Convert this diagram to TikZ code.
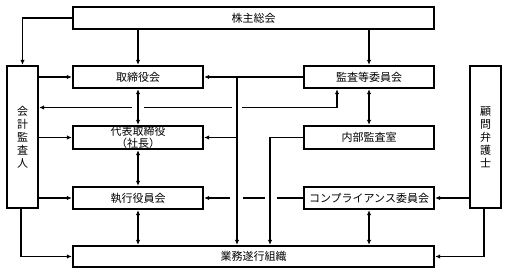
\documentclass[tikz,border=0pt]{standalone}
\usepackage{fontspec}
\setmainfont{Noto Sans CJK JP}
\usetikzlibrary{arrows.meta,calc}

\begin{document}
\begin{tikzpicture}[x=1pt,y=-1pt,font=\fontsize{11}{12}\selectfont,
  box/.style={draw,line width=1.9pt,inner sep=0pt,minimum height=22.5pt,align=center},
  wbox/.style={box,minimum width=130.5pt},
  vbox/.style={box,minimum width=31.5pt,minimum height=142.5pt,font=\fontsize{11}{13}\selectfont},
  line/.style={line width=1.1pt},
  arr/.style={line,-{Latex[length=5pt,width=4.5pt]}},
  both/.style={line,{Latex[length=5pt,width=4.5pt]}-{Latex[length=5pt,width=4.5pt]}}]
\useasboundingbox (0,0) rectangle (508,275);
\node[box,minimum width=361.5pt] (soukai) at (253.5,18) {株主総会};
\node[wbox] (torishimari) at (138,77) {取締役会};
\node[wbox] (kansa) at (369,77) {監査等委員会};
\node[wbox,minimum height=23.5pt] (daihyo) at (138,137.5) {代表取締役\\（社長）};
\node[wbox,minimum height=23.5pt] (naibu) at (369,137.5) {内部監査室};
\node[wbox] (shikko) at (138,198) {執行役員会};
\node[wbox] (comp) at (369,198) {コンプライアンス委員会};
\node[box,minimum width=361.5pt,minimum height=21.5pt] (gyomu) at (253.5,256.5) {業務遂行組織};
\node[vbox] (kaikei) at (22.5,137) {会\\計\\監\\査\\人};
\node[vbox] (komon) at (485.5,137) {顧\\問\\弁\\護\\士};
\coordinate (bus) at (237,0);
\coordinate (kline) at (270,0);
\coordinate (mid) at (0,107.5);

\draw[arr] (soukai.west) -| (kaikei.north);
\draw[arr] (torishimari.north |- soukai.south) -- (torishimari.north);
\draw[arr] (kansa.north |- soukai.south) -- (kansa.north);
\draw[arr] (kaikei.east |- torishimari.west) -- (torishimari.west);
\draw[arr] (kaikei.east |- daihyo.west) -- (daihyo.west);
\draw[arr] (kaikei.east |- shikko.west) -- (shikko.west);
\draw[arr] ([xshift=-1.5pt]kaikei.south) |- (gyomu.west);
\draw[both] (torishimari) -- (daihyo);
\draw[both] (daihyo) -- (shikko);
\draw[both] (shikko.south) -- (shikko.south |- gyomu.north);
\draw[both] (kansa) -- (naibu);
\draw[both] (comp.south) -- (comp.south |- gyomu.north);
\draw[arr] (komon.west |- comp.east) -- (comp.east);
\draw[arr] ([xshift=-1.5pt]komon.south) |- (gyomu.east);
\draw[arr] (kansa.west) -- (torishimari.east);
\draw[arr] (bus |- kansa.west) -- (bus |- gyomu.north);
\draw[arr] (bus |- daihyo.east) -- (daihyo.east);
\draw[arr] (naibu.west) -| (kline |- gyomu.north);
\draw[line,{Latex[length=5pt,width=4.5pt]}-] (kaikei.east |- mid) -- ($(torishimari.south |- mid)+(-6,0)$);
\draw[line] ($(torishimari.south |- mid)+(6,0)$) -- ($(bus |- mid)+(-5,0)$);
\draw[arr] ($(bus |- mid)+(5,0)$) -| ($(kansa.south)+(-32,0)$);
\draw[arr] ($(bus |- comp.west)+(-7,0)$) -- (shikko.east);
\draw[line] ($(bus |- comp.west)+(6,0)$) -- ($(kline |- comp.west)+(-5,0)$);
\draw[line] ($(kline |- comp.west)+(7,0)$) -- (comp.west);
\end{tikzpicture}
\end{document}
